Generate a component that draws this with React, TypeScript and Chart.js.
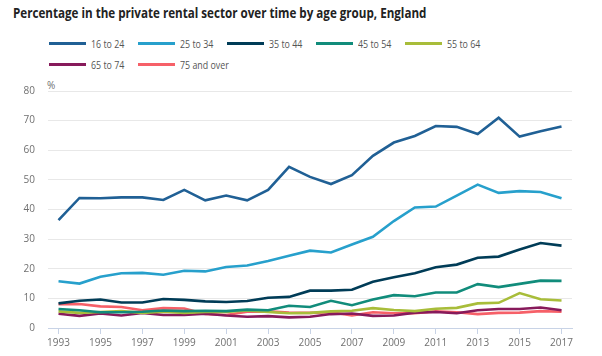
import React, { useEffect, useRef } from "react";
import { Chart, registerables } from "chart.js";

Chart.register(...registerables);

const years = ["1993","1994","1995","1996","1997","1998","1999","2000","2001","2002","2003","2004","2005","2006","2007","2008","2009","2010","2011","2012","2013","2014","2015","2016","2017"];

const age16to24 = [36.4, 43.9, 43.8, 44.1, 44.1, 43.2, 46.6, 43.1, 44.7, 43.1, 46.6, 54.4, 51.0, 48.6, 51.6, 58.1, 62.6, 64.8, 68.2, 67.9, 65.5, 71.0, 64.6, 66.4, 68.0];
const age25to34 = [15.8, 15.0, 17.3, 18.5, 18.6, 18.0, 19.3, 19.1, 20.6, 21.1, 22.6, 24.4, 26.1, 25.5, 28.2, 30.8, 36.1, 40.7, 41.0, 44.7, 48.4, 45.6, 46.2, 45.9, 43.8];
const age35to44 = [8.3, 9.2, 9.6, 8.6, 8.6, 9.8, 9.5, 9.0, 8.8, 9.1, 10.2, 10.5, 12.6, 12.6, 12.9, 15.6, 17.1, 18.5, 20.5, 21.4, 23.7, 24.1, 26.5, 28.7, 27.8];
const age45to54 = [6.4, 6.0, 5.3, 5.3, 5.5, 5.9, 5.7, 5.8, 5.7, 6.2, 6.0, 7.5, 7.1, 9.2, 7.7, 9.6, 11.1, 10.7, 12.0, 12.0, 14.8, 13.8, 14.9, 16.0, 15.9];
const age55to64 = [5.6, 5.1, 5.4, 5.7, 5.1, 5.5, 5.1, 5.4, 5.4, 5.9, 5.4, 5.0, 5.1, 5.6, 5.8, 6.7, 6.1, 5.7, 6.5, 6.8, 8.3, 8.5, 11.8, 9.7, 9.3];
const age65to74 = [4.8, 4.1, 4.9, 4.2, 5.1, 4.4, 4.4, 4.8, 4.2, 3.8, 4.0, 3.6, 3.8, 4.7, 4.9, 4.1, 4.2, 5.2, 5.4, 5.0, 6.0, 6.4, 6.4, 6.9, 6.0];
const age75plus = [8.0, 8.1, 7.3, 7.1, 6.0, 6.7, 6.6, 4.7, 4.4, 5.5, 5.6, 5.2, 5.1, 5.3, 4.2, 5.3, 5.0, 5.0, 5.6, 5.3, 4.7, 5.1, 5.2, 5.7, 5.5];

const seriesNames = ["16 to 24", "25 to 34", "35 to 44", "45 to 54", "55 to 64", "65 to 74", "75 and over"];
const seriesColors = ["#206095", "#27a0cc", "#003c57", "#118c7b", "#a8bd3a", "#871a5b", "#f66068"];
const seriesValues = [age16to24, age25to34, age35to44, age45to54, age55to64, age65to74, age75plus];

const yTicks = { min: 0, max: 80, step: 10 };

const FONT = "'Open Sans', 'Noto Sans', sans-serif";

export default function App() {
  const ref = useRef<HTMLCanvasElement | null>(null);

  useEffect(() => {
    document.body.style.margin = "0";
    const ctx = ref.current;
    if (!ctx) return;
    const chart = new Chart(ctx, {
      type: "line",
      data: {
        labels: years,
        datasets: seriesNames.map((name, i) => ({
          label: name,
          data: seriesValues[i],
          borderColor: seriesColors[i],
          backgroundColor: seriesColors[i],
          borderWidth: 2.6,
          pointRadius: 0,
          tension: 0,
        })),
      },
      options: {
        animation: false,
        responsive: true,
        maintainAspectRatio: false,
        layout: { padding: { left: 10.6, right: 30, top: 0, bottom: 4 } },
        plugins: { legend: { display: false }, tooltip: { enabled: false } },
        scales: {
          x: {
            type: "category",
            offset: true,
            border: { display: true, color: "#c8d3e6", width: 1 },
            grid: {
              offset: false,
              drawOnChartArea: false,
              drawTicks: true,
              tickLength: 6,
              color: (c: any) => (c.index % 2 === 0 ? "#c8d3e6" : "rgba(0,0,0,0)"),
            },
            ticks: {
              autoSkip: false,
              maxRotation: 0,
              padding: 3,
              color: "#707070",
              font: { family: FONT, size: 10 },
              callback: (_v: any, idx: number) => (idx % 2 === 0 ? years[idx] : ""),
            },
          },
          y: {
            min: yTicks.min,
            max: yTicks.max,
            border: { display: false },
            grid: { color: "#e8e8e8", drawTicks: false, lineWidth: 1 },
            ticks: {
              stepSize: yTicks.step,
              padding: 13,
              color: "#707070",
              font: { family: FONT, size: 10 },
            },
          },
        },
      },
    });
    return () => chart.destroy();
  }, []);

  return (
    <div style={{ position: "relative", width: 602, height: 356, background: "#fff", overflow: "hidden", fontFamily: FONT }}>
      <div style={{ position: "absolute", left: 13, top: 3, fontSize: 14, fontWeight: 700, color: "#222", whiteSpace: "nowrap", transform: "scaleX(0.83)", transformOrigin: "left top" }}>
        Percentage in the private rental sector over time by age group, England
      </div>
      <div style={{ position: "absolute", left: 49, top: 33, width: 460, display: "flex", flexWrap: "wrap" }}>
        {seriesNames.map((name, i) => (
          <div key={name} style={{ width: 89, height: 21, display: "flex", alignItems: "center" }}>
            <span style={{ display: "inline-block", width: 37, height: 3, background: seriesColors[i], flex: "none" }} />
            <span style={{ marginLeft: 5, fontSize: 11.5, color: "#555", whiteSpace: "nowrap", transform: "scaleX(0.77)", transformOrigin: "left center", display: "inline-block" }}>{name}</span>
          </div>
        ))}
      </div>
      <div style={{ position: "absolute", left: 47, top: 78, fontSize: 10, color: "#707070" }}>%</div>
      <div style={{ position: "absolute", left: 0, top: 72, width: 602, height: 284 }}>
        <canvas ref={ref} />
      </div>
    </div>
  );
}
